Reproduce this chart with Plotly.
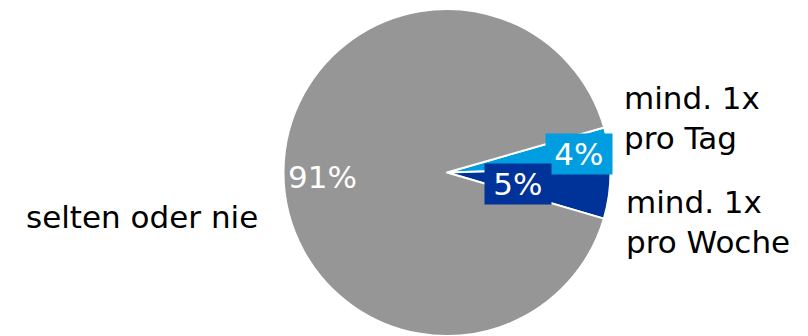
import plotly.graph_objects as go

labels = ["mind. 1x<br>pro Tag", "mind. 1x<br>pro Woche", "selten oder nie"]
values = [4, 5, 91]
colors = ["#009EE0", "#003399", "#969696"]

W, H = 808, 336
cx, cy, r = 447, 173, 164

fig = go.Figure(go.Pie(
    labels=labels, values=values, sort=False, direction="clockwise",
    rotation=74, textinfo="none", hoverinfo="label+percent",
    marker=dict(colors=colors, line=dict(color="white", width=2)),
    domain=dict(x=[(cx - r) / W, (cx + r) / W], y=[max(0, (H - cy - r) / H), (H - cy + r) / H]),
    showlegend=False,
))

font = dict(family="DejaVu Sans", size=31, color="black")
pct = [f"{v}%" for v in values]
ts = "\u2009"
ann = [
    dict(x=579, y=154, text=ts + pct[0] + ts, bgcolor=colors[0], font=dict(font, color="white"), xanchor="center", yanchor="middle", borderpad=2),
    dict(x=518, y=184, text=ts + pct[1] + ts, bgcolor=colors[1], font=dict(font, color="white"), xanchor="center", yanchor="middle", borderpad=2),
    dict(x=322, y=177, text=pct[2], font=dict(font, color="white"), xanchor="center", yanchor="middle"),
    dict(x=622, y=118, text=labels[0], font=font, xanchor="left", yanchor="middle", align="left"),
    dict(x=624, y=222, text=labels[1], font=font, xanchor="left", yanchor="middle", align="left"),
    dict(x=260, y=217, text=labels[2], font=font, xanchor="right", yanchor="middle"),
]
for a in ann:
    a["x"] = a["x"] / W
    a["y"] = 1 - a["y"] / H
    a.update(xref="paper", yref="paper", showarrow=False)

fig.update_layout(width=W, height=H, margin=dict(l=0, r=0, t=0, b=0),
                  paper_bgcolor="white", annotations=ann)
fig.write_html("out.html")
